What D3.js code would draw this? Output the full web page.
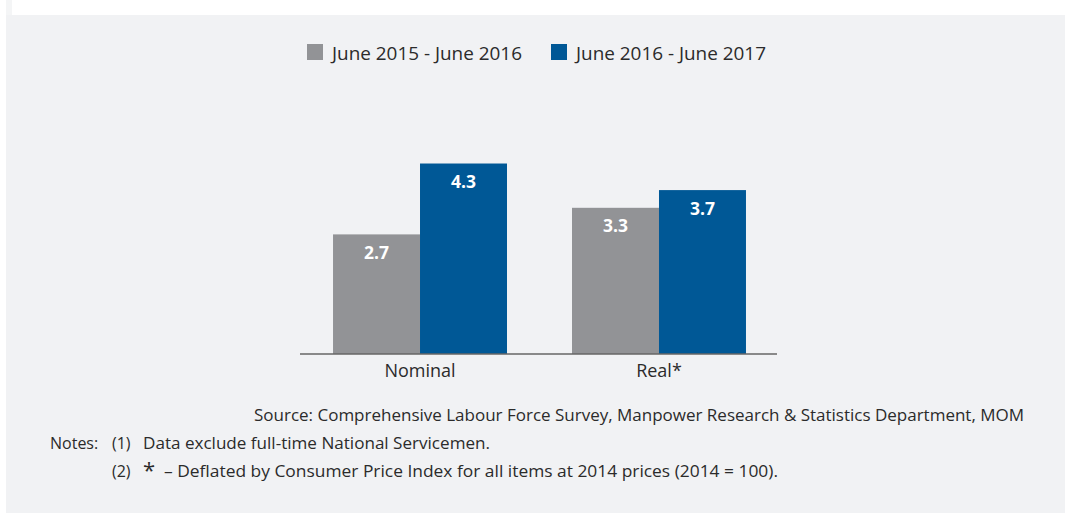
<!DOCTYPE html>
<html><head><meta charset="utf-8">
<script src="https://cdn.jsdelivr.net/npm/d3@7"></script>
<style>
html,body{margin:0;padding:0;background:#fff;}
svg{display:block;font-family:"Open Sans",sans-serif;}
</style></head>
<body>
<svg id="chart" width="1066" height="514"></svg>
<script>
const categories = ["Nominal", "Real*"];
const seriesNames = ["June 2015 - June 2016", "June 2016 - June 2017"];
const series2015_16 = [2.7, 3.3];
const series2016_17 = [4.3, 3.7];
const colors = ["#929396", "#005896"];
const sourceText = "Source: Comprehensive Labour Force Survey, Manpower Research & Statistics Department, MOM";
const note1 = "Data exclude full-time National Servicemen.";
const note2 = "– Deflated by Consumer Price Index for all items at 2014 prices (2014 = 100).";

const svg = d3.select("#chart");
const txt = "#2b2b2b";

// panel
svg.append("rect").attr("x", 6).attr("y", 15).attr("width", 1059).attr("height", 498).attr("fill", "#f1f2f4");
svg.append("rect").attr("x", 6).attr("y", 0).attr("width", 6).attr("height", 15).attr("fill", "#f4f5f6");

const baseY = 354;
const y = d3.scaleLinear().domain([0, 5]).range([baseY, baseY - 5 * 44.3]);
const x0 = d3.scaleBand().domain(categories).range([301, 778]).paddingInner(0.272).paddingOuter(0.134);
const x1 = d3.scaleBand().domain(seriesNames).range([0, x0.bandwidth()]);

const data = categories.map((c, i) => ({cat: c, vals: [series2015_16[i], series2016_17[i]]}));

const g = svg.append("g");
const groups = g.selectAll("g.grp").data(data).join("g")
  .attr("transform", d => `translate(${x0(d.cat)},0)`);

groups.selectAll("rect").data(d => d.vals.map((v, j) => ({v, j})))
  .join("rect")
  .attr("x", d => x1(seriesNames[d.j]))
  .attr("width", x1.bandwidth())
  .attr("y", d => y(d.v))
  .attr("height", d => y(0) - y(d.v))
  .attr("fill", d => colors[d.j]);

groups.selectAll("text.val").data(d => d.vals.map((v, j) => ({v, j})))
  .join("text").attr("class", "val")
  .attr("x", d => x1(seriesNames[d.j]) + x1.bandwidth() / 2)
  .attr("y", d => y(d.v) + 24.5)
  .attr("text-anchor", "middle")
  .attr("fill", "#fff")
  .attr("font-weight", "bold")
  .attr("font-size", 17.5)
  .text(d => d.v.toFixed(1));

// axis
const axis = d3.axisBottom(x0).tickSize(0).tickPadding(8);
const ax = svg.append("g").attr("transform", `translate(0,${baseY})`).call(axis);
ax.select(".domain").attr("stroke", "#666").attr("stroke-width", 1.5).attr("d", "M300,0H777");
ax.selectAll(".tick text").attr("font-size", 18).attr("fill", txt).attr("font-family", "Open Sans")
  .attr("dy", null).attr("y", 23);

// legend
const legX = [307, 551];
seriesNames.forEach((s, i) => {
  svg.append("rect").attr("x", legX[i]).attr("y", 44).attr("width", 16).attr("height", 16).attr("fill", colors[i]);
  svg.append("text").attr("x", legX[i] + 25).attr("y", 60).attr("font-size", 17.5).attr("fill", txt)
    .attr("textLength", 190).attr("lengthAdjust", "spacingAndGlyphs").text(s);
});

// source & notes
svg.append("text").attr("x", 1024).attr("y", 421).attr("text-anchor", "end").attr("font-size", 16).attr("fill", txt)
  .attr("textLength", 770).attr("lengthAdjust", "spacingAndGlyphs").text(sourceText);
svg.append("text").attr("x", 50).attr("y", 449).attr("font-size", 16).attr("fill", txt).text("Notes:");
svg.append("text").attr("x", 112).attr("y", 449).attr("font-size", 16).attr("fill", txt).text("(1)");
svg.append("text").attr("x", 143).attr("y", 449).attr("font-size", 16).attr("fill", txt)
  .attr("textLength", 347).attr("lengthAdjust", "spacingAndGlyphs").text(note1);
svg.append("text").attr("x", 112).attr("y", 477).attr("font-size", 16).attr("fill", txt).text("(2)");
svg.append("text").attr("x", 143).attr("y", 478).attr("font-size", 22).attr("fill", txt).text("*");
svg.append("text").attr("x", 164).attr("y", 477).attr("font-size", 16).attr("fill", txt)
  .attr("textLength", 614).attr("lengthAdjust", "spacingAndGlyphs").text(note2);
</script>
</body></html>
